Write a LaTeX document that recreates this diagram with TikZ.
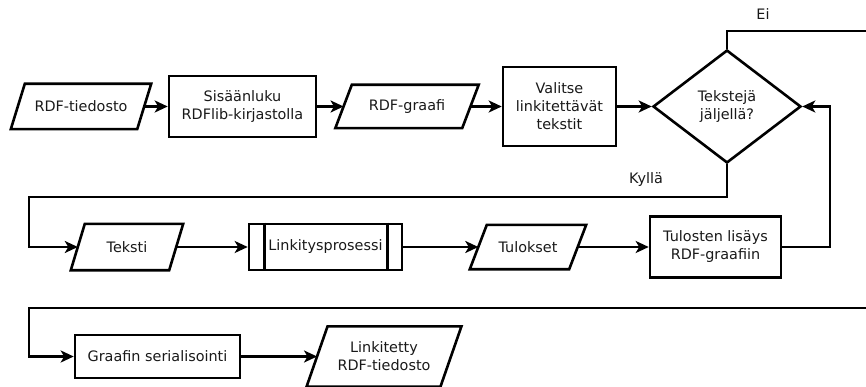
\documentclass[tikz,border=0pt]{standalone}
\usepackage{fontspec}
\setmainfont{DejaVu Sans}
\usetikzlibrary{arrows.meta,shapes.geometric}
\begin{document}
\begin{tikzpicture}[x=1pt,y=-1pt,
  every node/.style={font=\fontsize{14.4}{18}\selectfont, text=black!90, align=center, inner sep=0pt},
  box/.style={draw, line width=2.6pt, minimum width=#1},
  io/.style={minimum width=#1},
  arr/.style={line width=2.6pt, -{Stealth[length=13pt,width=12pt,inset=3.5pt]}},
  ln/.style={line width=2.6pt}]
\useasboundingbox (0,0) rectangle (866,387);
\newcommand\pgram[2]{\draw[line width=2.6pt] ([xshift=#2]#1.north west) -- ([xshift=#2]#1.north east) -- ([xshift=-#2]#1.south east) -- ([xshift=-#2]#1.south west) -- cycle;}
% row 1
\node[io=126pt, minimum height=45pt] (rdf) at (81,106.5) {RDF-tiedosto};
\pgram{rdf}{7pt}
\node[box=147pt, minimum height=61pt] (sis) at (242.5,106.5) {Sisäänluku\\RDFlib-kirjastolla};
\node[io=126.5pt, minimum height=43pt] (gra) at (407,106.5) {RDF-graafi};
\pgram{gra}{8.25pt}
\node[box=113pt, minimum height=79pt] (val) at (559.5,106.5) {Valitse\\linkitettävät\\tekstit};
\node[draw, line width=2.6pt, diamond, minimum width=148pt, minimum height=113pt, inner sep=0pt] (dia) at (727,106.5) {Tekstejä\\jäljellä?};
% row 2
\node[io=98pt, minimum height=46pt] (tek) at (127,247) {Teksti};
\pgram{tek}{7pt}
\node[box=153pt, minimum height=46pt] (lin) at (325.5,247) {Linkitysprosessi};
\draw[ln] ([xshift=17pt]lin.north west) -- ([xshift=17pt]lin.south west);
\draw[ln] ([xshift=-16pt]lin.north east) -- ([xshift=-16pt]lin.south east);
\node[io=99pt, minimum height=44pt] (tul) at (528,247) {Tulokset};
\pgram{tul}{8.5pt}
\node[box=131pt, minimum height=61pt] (lis) at (715.5,247) {Tulosten lisäys\\RDF-graafiin};
% row 3
\node[box=165pt, minimum height=43pt] (ser) at (157.5,356.5) {Graafin serialisointi};
\node[io=133.5pt, minimum height=60pt] (out) at (384,356.5) {Linkitetty\\RDF-tiedosto};
\pgram{out}{10.5pt}
% coordinates
\coordinate (eiA) at (727,31);
\coordinate (eiB) at (866,31);
\coordinate (kyA) at (727,197);
\coordinate (kyB) at (29,197);
\coordinate (rtA) at (830,247);
\coordinate (rtB) at (830,106.5);
\coordinate (r3A) at (866,308);
\coordinate (r3B) at (29,308);
% connectors
\draw[arr] (rdf.east) -- (sis.west);
\draw[arr] (sis.east) -- (gra.west);
\draw[arr] (gra.east) -- (val.west);
\draw[arr] (val.east) -- (dia.west);
\draw[ln] (dia.north) -- (eiA) -- (eiB);
\draw[arr] (dia.south) -- (kyA) -- (kyB) |- (tek.west);
\draw[arr] (tek.east) -- (lin.west);
\draw[arr] (lin.east) -- (tul.west);
\draw[arr] (tul.east) -- (lis.west);
\draw[arr] (lis.east) -- (rtA) -- (rtB) -- (dia.east);
\draw[arr] (r3A) -- (r3B) |- (ser.west);
\draw[arr] (ser.east) -- (out.west);
% labels
\node (ei) at (763,14) {Ei};
\node (ky) at (646,180) {Kyllä};
\end{tikzpicture}
\end{document}
